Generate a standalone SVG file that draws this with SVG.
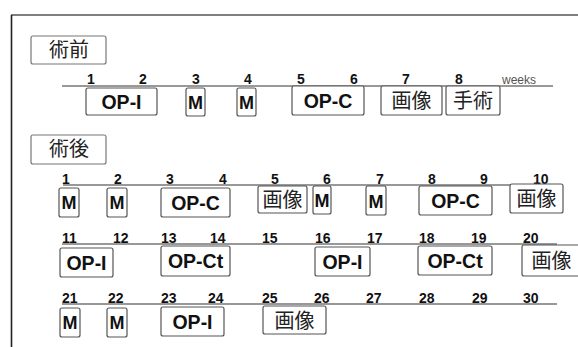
<svg xmlns="http://www.w3.org/2000/svg" width="578" height="347" viewBox="0 0 578 347">
<style>
.bx{fill:#fff;stroke:#555;stroke-width:1.2}
.hd{fill:#fff;stroke:#777;stroke-width:1.2}
.op{font-family:"Liberation Sans",Arial,sans-serif;font-weight:bold;font-size:19.5px;fill:#111;text-anchor:middle}
.m{font-family:"Liberation Sans",Arial,sans-serif;font-weight:bold;font-size:18px;fill:#111;text-anchor:middle}
.jp{font-family:"Liberation Sans","Noto Sans CJK JP",sans-serif;font-size:20px;fill:#222;text-anchor:middle}
.n{font-family:"Liberation Sans",Arial,sans-serif;font-weight:bold;font-size:14px;fill:#111}
.wk{font-family:"Liberation Sans",Arial,sans-serif;font-size:12px;fill:#555}
.ln{stroke:#333;stroke-width:1.2;fill:none}
</style>
<rect width="578" height="347" fill="#fff"/>
<g id="frame">
<line x1="11" y1="15" x2="578" y2="15" stroke="#555" stroke-width="1.5"/>
<line x1="11.5" y1="15" x2="11.5" y2="347" stroke="#222" stroke-width="1.6"/>
</g>
<g id="connectors">
<line class="ln" x1="62" y1="86" x2="553" y2="86"/>
<line class="ln" x1="63" y1="185" x2="556" y2="185"/>
<line class="ln" x1="62" y1="244" x2="557" y2="244"/>
<line class="ln" x1="62" y1="304" x2="557" y2="304"/>
</g>
<g id="week-labels">
<text class="n" x="87" y="84">1</text><text class="n" x="139" y="84">2</text><text class="n" x="192" y="84">3</text><text class="n" x="244" y="84">4</text><text class="n" x="297" y="84">5</text><text class="n" x="350" y="84">6</text><text class="n" x="402" y="84">7</text><text class="n" x="455" y="84">8</text>
<text class="wk" x="502" y="84">weeks</text>
<text class="n" x="62" y="184">1</text><text class="n" x="114" y="184">2</text><text class="n" x="166" y="184">3</text><text class="n" x="219" y="184">4</text><text class="n" x="271" y="184">5</text><text class="n" x="323" y="184">6</text><text class="n" x="376" y="184">7</text><text class="n" x="428" y="184">8</text><text class="n" x="480" y="184">9</text><text class="n" x="533" y="184">10</text>
<text class="n" x="62" y="243">11</text><text class="n" x="113" y="243">12</text><text class="n" x="161" y="243">13</text><text class="n" x="210" y="243">14</text><text class="n" x="262" y="243">15</text><text class="n" x="315" y="243">16</text><text class="n" x="367" y="243">17</text><text class="n" x="419" y="243">18</text><text class="n" x="471" y="243">19</text><text class="n" x="523" y="243">20</text>
<text class="n" x="62" y="303">21</text><text class="n" x="108" y="303">22</text><text class="n" x="161" y="303">23</text><text class="n" x="208" y="303">24</text><text class="n" x="262" y="303">25</text><text class="n" x="314" y="303">26</text><text class="n" x="366" y="303">27</text><text class="n" x="419" y="303">28</text><text class="n" x="472" y="303">29</text><text class="n" x="523" y="303">30</text>
</g>
<g id="pre-header"><rect class="hd" x="31" y="36" width="75" height="28" rx="2"/><text class="jp" x="69" y="57">術前</text></g>
<g id="post-header"><rect class="hd" x="31" y="135" width="75" height="29" rx="2"/><text class="jp" x="69" y="156">術後</text></g>
<g id="r1-opi"><rect class="bx" x="86" y="88" width="71" height="27" rx="2"/><text class="op" x="121.5" y="108.5">OP-I</text></g>
<g id="r1-m3"><rect class="bx" x="186" y="88" width="19" height="28" rx="2"/><text class="m" x="195.5" y="108.5">M</text></g>
<g id="r1-m4"><rect class="bx" x="237" y="88" width="19" height="28" rx="2"/><text class="m" x="246.5" y="108.5">M</text></g>
<g id="r1-opc"><rect class="bx" x="292" y="86" width="72" height="29" rx="2"/><text class="op" x="328" y="107.5">OP-C</text></g>
<g id="r1-img"><rect class="bx" x="381" y="86" width="61" height="29" rx="2"/><text class="jp" x="411.5" y="107.5">画像</text></g>
<g id="r1-surg"><rect class="bx" x="446" y="86" width="54" height="29" rx="2"/><text class="jp" x="473" y="107.5">手術</text></g>
<g id="r2-m1"><rect class="bx" x="59" y="188" width="20" height="29" rx="2"/><text class="m" x="69" y="209">M</text></g>
<g id="r2-m2"><rect class="bx" x="107" y="188" width="20" height="29" rx="2"/><text class="m" x="117" y="209">M</text></g>
<g id="r2-opc"><rect class="bx" x="161" y="188" width="69" height="29" rx="2"/><text class="op" x="195.5" y="209.5">OP-C</text></g>
<g id="r2-img5"><rect class="bx" x="258" y="186" width="49" height="27" rx="2"/><text class="jp" x="282.5" y="207">画像</text></g>
<g id="r2-m6"><rect class="bx" x="313" y="186" width="18" height="28" rx="2"/><text class="m" x="322" y="207">M</text></g>
<g id="r2-m7"><rect class="bx" x="366" y="186" width="20" height="29" rx="2"/><text class="m" x="376" y="207.5">M</text></g>
<g id="r2-opc8"><rect class="bx" x="419" y="186" width="73" height="29" rx="2"/><text class="op" x="455.5" y="207.5">OP-C</text></g>
<g id="r2-img10"><rect class="bx" x="510" y="184" width="53" height="29" rx="2"/><text class="jp" x="536.5" y="205.5">画像</text></g>
<g id="r3-opi11"><rect class="bx" x="60" y="248" width="53" height="29" rx="2"/><text class="op" x="86.5" y="269.5">OP-I</text></g>
<g id="r3-opct13"><rect class="bx" x="161" y="246" width="69" height="30" rx="2"/><text class="op" x="195.5" y="268">OP-Ct</text></g>
<g id="r3-opi16"><rect class="bx" x="315" y="247" width="55" height="29" rx="2"/><text class="op" x="342.5" y="268.5">OP-I</text></g>
<g id="r3-opct18"><rect class="bx" x="418" y="246" width="74" height="29" rx="2"/><text class="op" x="455" y="267.5">OP-Ct</text></g>
<g id="r3-img20"><rect class="bx" x="522" y="245" width="62" height="31" rx="2"/><text class="jp" x="551.5" y="267.5">画像</text></g>
<g id="r4-m21"><rect class="bx" x="60" y="308" width="20" height="29" rx="2"/><text class="m" x="70" y="329">M</text></g>
<g id="r4-m22"><rect class="bx" x="107" y="308" width="20" height="29" rx="2"/><text class="m" x="117" y="329">M</text></g>
<g id="r4-opi23"><rect class="bx" x="161" y="307" width="63" height="29" rx="2"/><text class="op" x="192.5" y="328.5">OP-I</text></g>
<g id="r4-img25"><rect class="bx" x="263" y="306" width="63" height="28" rx="2"/><text class="jp" x="294.5" y="327.5">画像</text></g>
</svg>
